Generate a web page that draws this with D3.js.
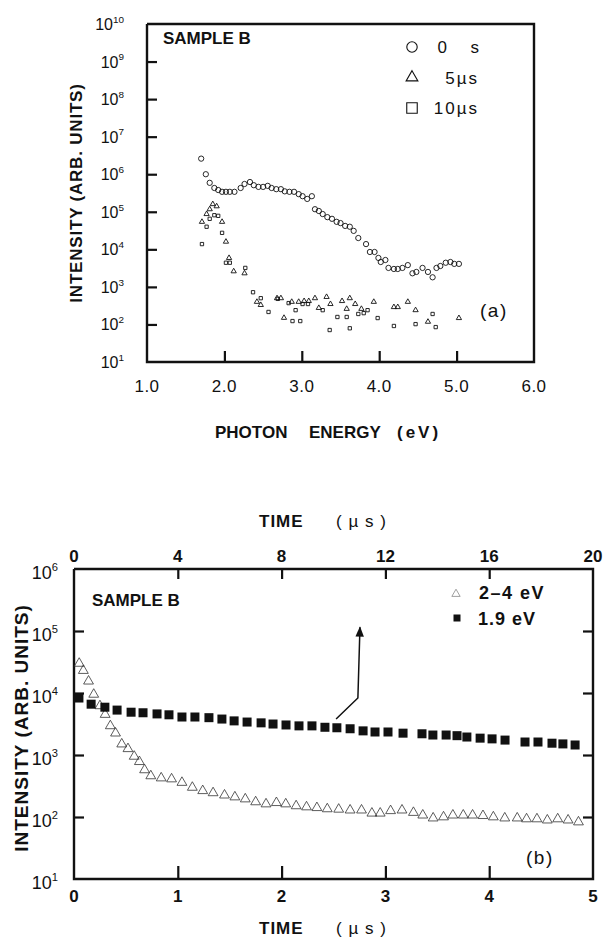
<!DOCTYPE html>
<html>
<head>
<meta charset="utf-8">
<script src="https://cdn.jsdelivr.net/npm/d3@7"></script>
<style>
  html, body { margin: 0; padding: 0; background: #fff; }
  svg { display: block; font-family: "Liberation Sans", Arial, sans-serif; }
  text { fill: #111; white-space: pre; }
</style>
</head>
<body>
<div id="chart"></div>
<script>
"use strict";

// panel (a): photon energy (eV) vs intensity
var circles0s = [[1.70,2.6e6],[1.76,1.0e6],[1.81,5.9e5],[1.87,4.3e5],[1.92,3.8e5],[1.97,3.4e5],[2.02,3.4e5],[2.07,3.4e5],[2.13,3.4e5],
  [2.21,4.3e5],[2.26,5.5e5],[2.33,6.2e5],[2.38,5.1e5],[2.44,4.6e5],[2.50,4.6e5],[2.56,4.9e5],[2.61,4.3e5],[2.67,4.0e5],[2.73,4.0e5],
  [2.78,3.5e5],[2.84,3.4e5],[2.90,3.4e5],[2.96,2.95e5],[3.01,2.6e5],[3.07,2.2e5],[3.13,2.6e5],[3.17,1.17e5],[3.22,1.05e5],[3.27,8.7e4],
  [3.33,7.2e4],[3.39,6.5e4],[3.45,5.4e4],[3.50,5.0e4],[3.56,4.2e4],[3.62,4.0e4],[3.67,3.1e4],[3.73,2.0e4],[3.83,1.38e4],[3.88,8.5e3],
  [3.94,8.5e3],[3.99,5.9e3],[4.02,4.6e3],[4.08,5.2e3],[4.12,3.2e3],[4.19,3.0e3],[4.24,3.0e3],[4.30,3.2e3],[4.37,3.8e3],[4.43,2.3e3],
  [4.48,2.5e3],[4.56,3.2e3],[4.63,2.5e3],[4.69,1.8e3],[4.74,3.2e3],[4.79,3.6e3],[4.86,4.4e3],[4.92,4.6e3],[4.97,4.1e3],[5.03,4.1e3]];
var triangles5us = [[1.71,5.4e4],[1.77,8.7e4],[1.81,1.17e5],[1.85,1.6e5],[1.90,1.4e5],[1.97,5.4e4],[2.02,1.6e4],[2.06,5.9e3],[2.12,2.6e3],
  [2.26,2.3e3],[2.42,400],[2.47,330],[2.68,500],[2.73,500],[2.77,150],[2.87,400],[2.96,400],[3.03,420],[3.09,420],[3.17,500],
  [3.22,275],[3.32,540],[3.37,350],[3.52,420],[3.58,260],[3.62,500],[3.69,350],[3.77,260],[3.93,400],[4.19,290],[4.24,290],
  [4.37,400],[4.47,240],[4.63,118],[5.03,148]];
var squares10us = [[1.71,1.38e4],[1.77,4.0e4],[1.81,6.5e4],[1.87,8.1e4],[1.92,7.8e4],[1.97,2.75e4],[2.02,4.4e3],[2.07,4.4e3],[2.27,3.2e3],
  [2.37,720],[2.47,500],[2.57,215],[2.69,480],[2.83,370],[2.88,123],[2.92,240],[2.98,123],[3.01,350],[3.08,350],[3.27,240],
  [3.36,71],[3.46,158],[3.58,158],[3.62,79],[3.73,190],[3.80,200],[3.85,240],[3.98,148],[4.19,91],[4.47,102],[4.69,190],[4.73,85]];
var energyTicks = [1, 2, 3, 4, 5, 6];
var energyTickLabels = ["1.0", "2.0", "3.0", "4.0", "5.0", "6.0"];
var decadesA = [1, 2, 3, 4, 5, 6, 7, 8, 9, 10];
var legendA = ["0     s", "5\u00b5s", "10\u00b5s"];

// panel (b): decay curves; triangles on bottom axis (0-5 us), squares on top axis (0-20 us)
var tri24eV = [[0.05,30000],[0.09,23000],[0.14,15500],[0.19,9500],[0.25,6200],[0.30,4500],[0.35,2950],[0.40,2250],[0.46,1500],
  [0.52,1260],[0.58,950],[0.63,780],[0.68,575],[0.74,460],[0.84,425],[0.94,410],[1.04,360],[1.14,300],[1.24,265],[1.34,245],
  [1.45,225],[1.55,210],[1.65,195],[1.75,175],[1.85,162],[1.95,170],[2.04,162],[2.14,151],[2.24,145],[2.34,141],[2.44,135],
  [2.55,133],[2.66,129],[2.77,129],[2.87,115],[2.95,115],[3.05,126],[3.16,129],[3.27,118],[3.36,107],[3.46,96],[3.56,100],
  [3.65,107],[3.75,107],[3.84,107],[3.94,105],[4.04,100],[4.15,96],[4.27,96],[4.36,93],[4.46,93],[4.56,89],[4.66,93],
  [4.76,89],[4.86,83]];
var sq19eV = [[0.19,8300],[0.66,6600],[1.19,5900],[1.66,5300],[2.20,4900],[2.66,4800],[3.20,4600],[3.66,4450],[4.16,4100],
  [4.66,4100],[5.20,4000],[5.70,3800],[6.17,3550],[6.67,3400],[7.21,3300],[7.67,3160],[8.17,3050],[8.67,2950],[9.17,2950],
  [9.67,2800],[10.13,2750],[10.64,2650],[11.14,2450],[11.60,2350],[12.10,2350],[12.68,2250],[13.41,2200],[13.83,2100],
  [14.34,2100],[14.76,2050],[15.14,1950],[15.65,1870],[16.11,1820],[16.61,1740],[17.38,1620],[17.88,1620],[18.42,1550],
  [18.84,1510],[19.31,1450]];
var timeTicksBottom = [0, 1, 2, 3, 4, 5];
var timeTicksTop = [0, 4, 8, 12, 16, 20];
var decadesB = [1, 2, 3, 4, 5, 6];
var legendB = ["2\u20134 eV", "1.9 eV"];
var arrowPath = [[10.1,3800],[10.94,8300],[11.02,115000]];   // top-axis time, intensity

var W = 605, H = 939;
var svg = d3.select("#chart").append("svg").attr("width", W).attr("height", H);

svg.append("defs").append("marker")
  .attr("id", "arrowhead").attr("viewBox", "0 0 10 10").attr("refX", 9).attr("refY", 5)
  .attr("markerWidth", 7).attr("markerHeight", 9).attr("orient", "auto")
  .append("path").attr("d", "M0,1 L10,5 L0,9 Z").attr("fill", "#111");

function decadeLabel(g, x, y, exp, size) {
  var t = g.append("text").attr("x", x).attr("y", y).attr("text-anchor", "end")
    .style("font-size", size + "px");
  t.append("tspan").text("10");
  t.append("tspan").attr("dy", -size * 0.45).style("font-size", (size * 0.62) + "px").text(exp);
  return t;
}

function frame(g, x0, x1, y0, y1) {
  var pts = [[x0, y0], [x1, y0], [x1, y1], [x0, y1], [x0, y0]];
  return g.append("path").attr("class", "frame").attr("d", d3.line()(pts))
    .attr("fill", "none").attr("stroke", "#111").attr("stroke-width", 2.4);
}

function tickAxis(g, axis, tx, ty) {
  var a = g.append("g").attr("transform", "translate(" + tx + "," + ty + ")").call(axis);
  a.select(".domain").remove();
  a.selectAll("text").remove();
  a.selectAll("line").attr("stroke", "#111").attr("stroke-width", 2.2);
  return a;
}

/* ---------------- panel (a) ---------------- */
var gA = svg.append("g");
var xA = d3.scaleLinear().domain([1, 6]).range([147, 534]);
var yA = d3.scaleLog().domain([10, 1e10]).range([362, 24]);

frame(gA, xA(1), xA(6), yA(1e10), yA(10));
tickAxis(gA, d3.axisLeft(yA).tickValues(decadesA.slice(1, -1).map(function(d){ return Math.pow(10, d); }))
  .tickSizeInner(-10).tickSizeOuter(0).tickFormat(""), xA(1), 0);
tickAxis(gA, d3.axisBottom(xA).tickValues(energyTicks.slice(1, -1))
  .tickSizeInner(-11).tickSizeOuter(0).tickFormat(""), 0, yA(10));

decadesA.forEach(function(d) {
  decadeLabel(gA, 124, yA(Math.pow(10, d)) + 6, d, 16);
});
energyTicks.forEach(function(d, i) {
  gA.append("text").attr("x", xA(d)).attr("y", 392).attr("text-anchor", "middle")
    .style("font-size", "17px").style("letter-spacing", "0.5px").text(energyTickLabels[i]);
});
var titleA = gA.append("text").attr("y", 438).style("font-size", "17px").style("font-weight", "bold");
titleA.append("tspan").attr("x", 215).text("PHOTON");
titleA.append("tspan").attr("x", 309).text("ENERGY");
titleA.append("tspan").attr("x", 397).style("letter-spacing", "3px").text("(eV)");
gA.append("text").attr("transform", "translate(82,193) rotate(-90)").attr("text-anchor", "middle")
  .style("font-size", "17px").style("font-weight", "bold").style("letter-spacing", "0.8px")
  .text("INTENSITY (ARB. UNITS)");
gA.append("text").attr("x", 163).attr("y", 44).style("font-size", "17px").style("font-weight", "bold").text("SAMPLE B");
gA.append("text").attr("x", 480).attr("y", 317).style("font-size", "19px").style("letter-spacing", "1.5px").text("(a)");

var symA = [
  { data: circles0s, type: d3.symbolCircle, size: 22 },
  { data: triangles5us, type: d3.symbolTriangle, size: 12 },
  { data: squares10us, type: d3.symbolSquare, size: 11 }
];
symA.forEach(function(s) {
  gA.append("g").selectAll("path").data(s.data).enter().append("path")
    .attr("transform", function(d) { return "translate(" + xA(d[0]) + "," + yA(d[1]) + ")"; })
    .attr("d", d3.symbol().type(s.type).size(s.size))
    .attr("fill", "none").attr("stroke", "#111").attr("stroke-width", 0.9);
});

// legend (a)
var legSymA = [d3.symbolCircle, d3.symbolTriangle, d3.symbolSquare];
var legSizeA = [85, 60, 110];
legendA.forEach(function(lbl, i) {
  var y = 47 + i * 30.5;
  gA.append("path").attr("transform", "translate(412," + y + ")")
    .attr("d", d3.symbol().type(legSymA[i]).size(legSizeA[i]))
    .attr("fill", "none").attr("stroke", "#111").attr("stroke-width", 1.1);
  gA.append("text").attr("x", 479).attr("y", y + 6).attr("text-anchor", "end")
    .style("font-size", "17px").style("letter-spacing", i === 0 ? "0px" : "2px").text(lbl);
});

/* ---------------- panel (b) ---------------- */
var gB = svg.append("g");
var xB = d3.scaleLinear().domain([0, 5]).range([74, 593]);
var xBtop = d3.scaleLinear().domain([0, 20]).range([74, 593]);
var yB = d3.scaleLog().domain([10, 1e6]).range([879, 569]);

frame(gB, xB(0), xB(5), yB(1e6), yB(10));
var innerDecB = decadesB.slice(1, -1).map(function(d){ return Math.pow(10, d); });
tickAxis(gB, d3.axisLeft(yB).tickValues(innerDecB).tickSizeInner(-10).tickSizeOuter(0).tickFormat(""), xB(0), 0);
tickAxis(gB, d3.axisRight(yB).tickValues(innerDecB).tickSizeInner(-10).tickSizeOuter(0).tickFormat(""), xB(5), 0);
tickAxis(gB, d3.axisBottom(xB).tickValues(timeTicksBottom.slice(1, -1)).tickSizeInner(-13).tickSizeOuter(0).tickFormat(""), 0, yB(10));
tickAxis(gB, d3.axisTop(xBtop).tickValues(timeTicksTop.slice(1, -1)).tickSizeInner(-10).tickSizeOuter(0).tickFormat(""), 0, yB(1e6));

decadesB.forEach(function(d) {
  decadeLabel(gB, 58, yB(Math.pow(10, d)) + 10, d, 18);
});
timeTicksBottom.forEach(function(d) {
  gB.append("text").attr("x", xB(d)).attr("y", 902).attr("text-anchor", "middle")
    .style("font-size", "17px").style("font-weight", "bold").text(d);
});
timeTicksTop.forEach(function(d) {
  gB.append("text").attr("x", xBtop(d)).attr("y", 562).attr("text-anchor", "middle")
    .style("font-size", "17px").style("font-weight", "bold").text(d);
});
[527, 934].forEach(function(y) {
  var t = gB.append("text").attr("y", y).style("font-size", "17px").style("font-weight", "bold");
  t.append("tspan").attr("x", 259).style("letter-spacing", "1px").text("TIME");
  t.append("tspan").attr("x", 336).style("font-weight", "normal").style("letter-spacing", "1px").text("( \u00b5 s )");
});
gB.append("text").attr("transform", "translate(28,728) rotate(-90)").attr("text-anchor", "middle")
  .style("font-size", "19px").style("font-weight", "bold").style("letter-spacing", "1px")
  .text("INTENSITY (ARB. UNITS)");
gB.append("text").attr("x", 92).attr("y", 606).style("font-size", "17px").style("font-weight", "bold").text("SAMPLE B");
gB.append("text").attr("x", 526).attr("y", 864).style("font-size", "19px").style("letter-spacing", "1.5px").text("(b)");

gB.append("g").selectAll("path").data(tri24eV).enter().append("path")
  .attr("transform", function(d) { return "translate(" + xB(d[0]) + "," + yB(d[1]) + ")"; })
  .attr("d", d3.symbol().type(d3.symbolTriangle).size(42))
  .attr("fill", "none").attr("stroke", "#333").attr("stroke-width", 0.8);

gB.append("g").selectAll("rect").data(sq19eV).enter().append("rect")
  .attr("x", function(d) { return xBtop(d[0]) - 4.5; })
  .attr("y", function(d) { return yB(d[1]) - 4.5; })
  .attr("width", 9).attr("height", 9).attr("fill", "#111");

gB.append("path")
  .attr("d", d3.line().x(function(d){ return xBtop(d[0]); }).y(function(d){ return yB(d[1]); })(arrowPath))
  .attr("fill", "none").attr("stroke", "#111").attr("stroke-width", 1.5)
  .attr("marker-end", "url(#arrowhead)");

// legend (b)
gB.append("path").attr("transform", "translate(456,594)")
  .attr("d", d3.symbol().type(d3.symbolTriangle).size(30))
  .attr("fill", "none").attr("stroke", "#888").attr("stroke-width", 0.8);
gB.append("rect").attr("x", 453.5).attr("y", 614.5).attr("width", 7).attr("height", 7).attr("fill", "#111");
gB.append("text").attr("x", 479).attr("y", 599).style("font-size", "18px").style("font-weight", "bold")
  .style("letter-spacing", "1.5px").text(legendB[0]);
gB.append("text").attr("x", 478).attr("y", 625).style("font-size", "18px").style("font-weight", "bold")
  .style("letter-spacing", "1px").text(legendB[1]);
</script>
</body>
</html>
